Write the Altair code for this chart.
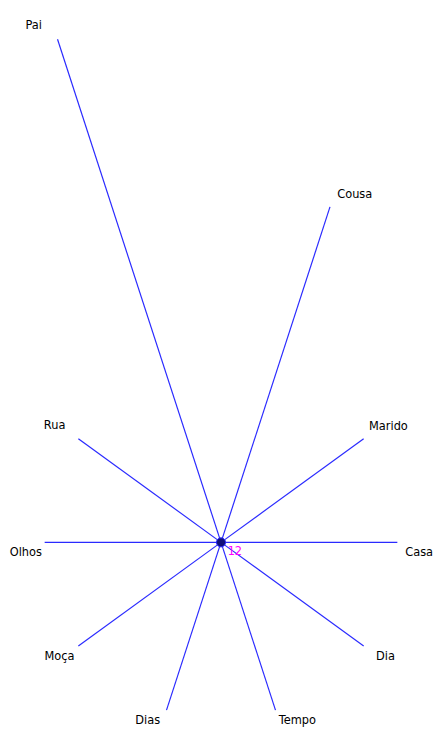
import altair as alt
import pandas as pd

# Spokes, counter-clockwise starting at the right (east)
categories = ["Casa", "Marido", "Cousa", "Pai", "Rua", "Olhos", "Moça", "Dias", "Tempo", "Dia"]
values = [1, 1, 2, 3, 1, 1, 1, 1, 1, 1]
angles_deg = [0, 36, 72, 108, 144, 180, 216, 252, 288, 324]
center_label = ["12"]

df = pd.DataFrame({"cat": categories, "value": values, "angle": angles_deg})
center_df = pd.DataFrame({"cx": [0], "cy": [0], "lab": center_label})

xscale = alt.Scale(domain=[-1.2079, 1.1854], nice=False, zero=False)
yscale = alt.Scale(domain=[-0.9888, 3.0112], nice=False, zero=False)

base = alt.Chart(df).transform_calculate(
    x="datum.value*cos(datum.angle*PI/180)",
    y="datum.value*sin(datum.angle*PI/180)",
    x0="0",
    y0="0",
)

rules = base.mark_rule(color="#2a2aff", strokeWidth=1.2).encode(
    x=alt.X("x:Q", scale=xscale, axis=None),
    y=alt.Y("y:Q", scale=yscale, axis=None),
    x2="x0:Q",
    y2="y0:Q",
)

def labels(flt, dx, dy):
    return base.transform_filter(flt).mark_text(
        font="DejaVu Sans", fontSize=11.5, color="black", align="center",
        baseline="middle", dx=dx, dy=dy,
    ).encode(
        x=alt.X("x:Q", scale=xscale, axis=None),
        y=alt.Y("y:Q", scale=yscale, axis=None),
        text="cat:N",
    )

ur = labels("cos(datum.angle*PI/180) > 0.01 && sin(datum.angle*PI/180) > 0.01", 25, -12)
lr = labels("cos(datum.angle*PI/180) > 0.01 && sin(datum.angle*PI/180) <= 0.01", 22, 11)
ul = labels("cos(datum.angle*PI/180) <= 0.01 && sin(datum.angle*PI/180) > 0.01", -24, -13)
ll = labels("cos(datum.angle*PI/180) <= 0.01 && sin(datum.angle*PI/180) <= 0.01", -19, 11)

center = alt.Chart(center_df)
dot = center.mark_point(filled=True, size=85, color="#10107a", stroke="#2a2aff", strokeWidth=1, opacity=1).encode(
    x=alt.X("cx:Q", scale=xscale, axis=None),
    y=alt.Y("cy:Q", scale=yscale, axis=None),
)
num = center.mark_text(font="DejaVu Sans", fontSize=11.5, color="#ff00ff", dx=14, dy=10).encode(
    x=alt.X("cx:Q", scale=xscale, axis=None),
    y=alt.Y("cy:Q", scale=yscale, axis=None),
    text="lab:N",
)

chart = alt.layer(rules, dot, num, ur, lr, ul, ll).properties(
    width=426, height=712, padding=0
).configure_view(stroke=None)

chart.save("out.html", embed_options={"renderer": "svg", "actions": False})
